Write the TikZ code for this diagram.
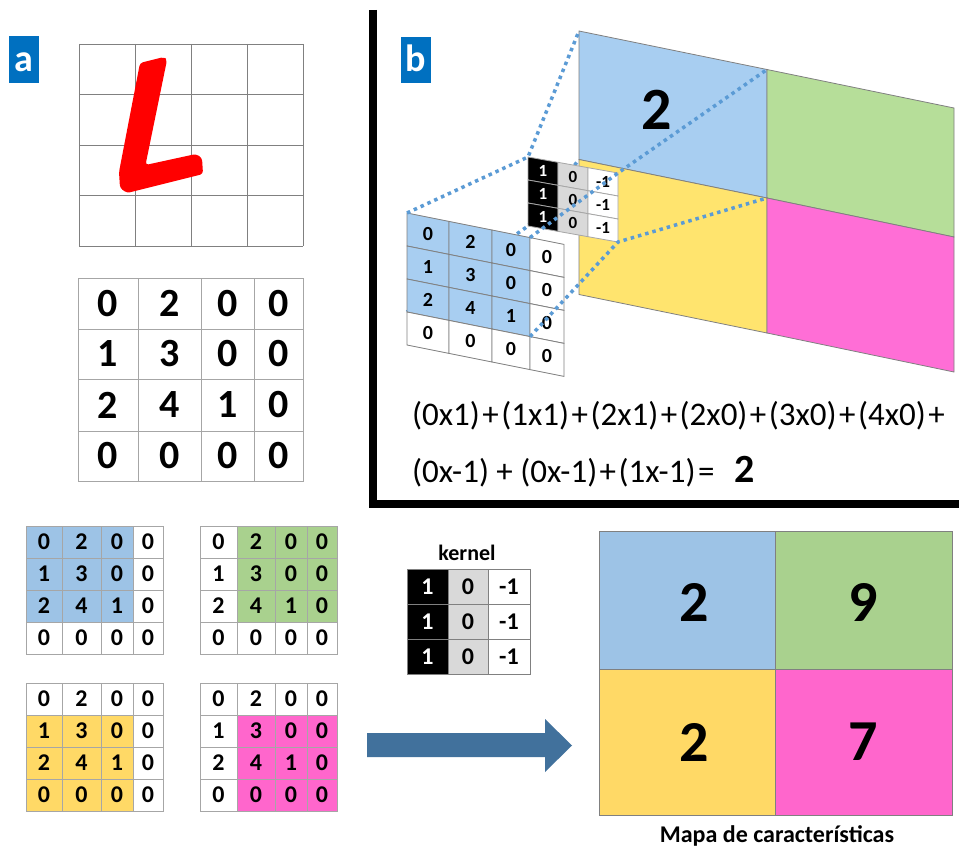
\documentclass[tikz,border=0pt]{standalone}
\usepackage{fontspec}
\setmainfont{Carlito}
\definecolor{lblue}{RGB}{157,195,230}
\definecolor{lgreen}{RGB}{169,209,142}
\definecolor{lyellow}{RGB}{255,217,102}
\definecolor{lpink}{RGB}{255,102,204}
\definecolor{bblue}{RGB}{168,206,241}
\definecolor{bgreen}{RGB}{182,222,153}
\definecolor{byellow}{RGB}{255,228,110}
\definecolor{bpink}{RGB}{255,110,214}
\definecolor{tagblue}{RGB}{0,112,192}
\definecolor{dotblue}{RGB}{91,155,213}
\definecolor{arrowblue}{RGB}{65,113,156}
\definecolor{gridgray}{RGB}{166,166,166}
\definecolor{kgray}{RGB}{217,217,217}
\newcommand\fs[1]{\fontsize{#1}{#1}\selectfont}
\newcommand\pl{\kern2.5pt+\kern2.5pt}
% flat 4x4 grid: #1 name, #2 xs, #3 ys, #4 fill colour, #5-#8 col min/max row min/max, #9 font size
\newcommand\mgrid[9]{%
  \foreach \i in {0,...,3}{\foreach \j in {0,...,3}{%
    \pgfmathsetmacro\xa{#2[\i]}\pgfmathsetmacro\xb{#2[\i+1]}%
    \pgfmathsetmacro\ya{#3[\j]}\pgfmathsetmacro\yb{#3[\j+1]}%
    \pgfmathtruncatemacro\infl{(\i>(#5-1))*(\i<(#6+1))*(\j>(#7-1))*(\j<(#8+1))}%
    \ifnum\infl=1 \fill[#4] (\xa,\ya) rectangle (\xb,\yb);\fi
  }}%
  \foreach \i in {0,...,3}{\foreach \j in {0,...,3}{%
    \pgfmathsetmacro\xa{#2[\i]}\pgfmathsetmacro\xb{#2[\i+1]}%
    \pgfmathsetmacro\ya{#3[\j]}\pgfmathsetmacro\yb{#3[\j+1]}%
    \pgfmathtruncatemacro\cellv{{0,2,0,0,1,3,0,0,2,4,1,0,0,0,0,0}[4*\j+\i]}%
    \draw[gridline] (\xa,\ya) rectangle (\xb,\yb);
    \node[numtxt, font=\bfseries\fs{#9}] (#1-\i-\j) at ({(\xa+\xb)/2},{(\ya+\yb)/2}) {\cellv};
  }}}
\tikzset{
  gridline/.style={draw=gridgray, line width=1pt},
  lgrid/.style={draw=gray, line width=0.8pt},
  numtxt/.style={inner sep=0pt, anchor=center},
  dotline/.style={draw=dotblue, line width=3.5pt, dash pattern=on 3.5pt off 4pt, line join=round},
  mapcell/.style={draw=gray, line width=0.8pt},
  tag/.style={fill=tagblue},
  tagtxt/.style={text=white, font=\bfseries\fs{38}, inner sep=0pt, anchor=base},
}
\begin{document}
\begin{tikzpicture}[x=1pt,y=-1pt]
\useasboundingbox (0,0) rectangle (959,848);
\fill[white] (0,0) rectangle (959,848);

% ---------- panel a ----------
\fill[tag] (9,36) rectangle (39,83);
\node[tagtxt] (taga) at (24,72) {a};

% L grid
\foreach \x in {79,135,191,247,303} \draw[lgrid] (\x,44) -- (\x,246);
\foreach \y in {44,94.5,145,195,246} \draw[lgrid] (79,\y) -- (303,\y);
\fill[red, rounded corners=3pt] (140,63) -- (164,57) -- (167,60) -- (145.5,165) -- (196,154) -- (202,158) -- (203,174) -- (127,193) -- (120,188) -- (119,172) -- cycle;

% number grid
\mgrid{ag}{{78,138,201,254,303}}{{278,329,379,431,481}}{white}{9}{9}{9}{9}{40}

% ---------- separator ----------
\draw[line width=8pt, line join=miter] (372.5,10) -- (372.5,504) -- (959,504);

% ---------- panel b ----------
\fill[tag] (401,37) rectangle (431,83);
\node[tagtxt] (tagb) at (416,72) {b};

% feature map in perspective
\coordinate (O1) at (579,31);
\coordinate (O2) at (767,69.5);
\coordinate (TR) at (954,108);
\coordinate (O4) at (579,159.5);
\coordinate (O3) at (767,198);
\coordinate (MR) at (954,237);
\coordinate (BL) at (579,294.5);
\coordinate (BM) at (767,333);
\coordinate (BR) at (954,372);
\filldraw[mapcell, fill=bblue] (O1) -- (O2) -- (O3) -- (O4) -- cycle;
\filldraw[mapcell, fill=bgreen] (O2) -- (TR) -- (MR) -- (O3) -- cycle;
\filldraw[mapcell, fill=byellow] (O4) -- (O3) -- (BM) -- (BL) -- cycle;
\filldraw[mapcell, fill=bpink] (O3) -- (MR) -- (BR) -- (BM) -- cycle;
\node[numtxt, font=\bfseries\fs{60}] (bmap2) at (657,110) {2};

% projection corners
\coordinate (A) at (407,213);
\coordinate (B) at (530,237.6);
\coordinate (C) at (530,336.6);
\coordinate (D) at (407,312);
\coordinate (K1) at (528,157);
\coordinate (K2) at (618,173);
\coordinate (K3) at (618,242);
\coordinate (K4) at (528,226);

% hidden projection line
\draw[dotline] (D) -- (K4) -- (O4);

% small kernel in perspective
\foreach \xa/\xb/\i/\fc/\tc/\val in {528/558/0/black/white/1, 558/588/1/kgray/black/0, 588/618/2/white/black/-1}{
  \foreach \j in {0,1,2}{
    \pgfmathsetmacro\ta{157+0.178*(\xa-528)+23*\j}
    \pgfmathsetmacro\tb{157+0.178*(\xb-528)+23*\j}
    \filldraw[draw=gridgray, line width=0.8pt, fill=\fc] (\xa,\ta) -- (\xb,\tb) -- (\xb,{\tb+23}) -- (\xa,{\ta+23}) -- cycle;
    \node[numtxt, text=\tc, font=\bfseries\fs{17}] (bk-\i-\j) at ({(\xa+\xb)/2},{(\ta+\tb)/2+11.5}) {\val};
  }
}

% input grid in perspective
\foreach \xa/\xb/\i in {407/449/0, 449/492/1, 492/530/2, 530/564/3}{
  \foreach \j in {0,...,3}{
    \pgfmathsetmacro\ta{213+0.2*(\xa-407)+33*\j}
    \pgfmathsetmacro\tb{213+0.2*(\xb-407)+33*\j}
    \pgfmathtruncatemacro\infl{(\i<3)*(\j<3)}
    \ifnum\infl=1 \def\fc{bblue}\else\def\fc{white}\fi
    \filldraw[draw=gray, line width=0.8pt, fill=\fc] (\xa,\ta) -- (\xb,\tb) -- (\xb,{\tb+33}) -- (\xa,{\ta+33}) -- cycle;
    \pgfmathtruncatemacro\cellv{{0,2,0,0,1,3,0,0,2,4,1,0,0,0,0,0}[4*\j+\i]}
    \node[numtxt, font=\bfseries\fs{20}] (bg-\i-\j) at ({(\xa+\xb)/2},{(\ta+\tb)/2+16.5}) {\cellv};
  }
}

% visible projection lines
\draw[dotline] (A) -- (K1) -- (O1);
\draw[dotline] (B) -- (K2) -- (O2);
\draw[dotline] (C) -- (K3) -- (O3);

% formula
\node[anchor=base west, inner sep=0pt, font=\fs{33}] (f1) at (412,425) {(0x1)\pl(1x1)\pl(2x1)\pl(2x0)\pl(3x0)\pl(4x0)\kern2.5pt+};
\node[anchor=base west, inner sep=0pt, font=\fs{33}] (f2) at (412,482) {(0x-1) + (0x-1)\pl(1x-1)\kern2.5pt=};
\node[anchor=base, inner sep=0pt, font=\bfseries\fs{40}] (f3) at (745,482) {2};

% ---------- bottom: four windows ----------
\mgrid{g1}{{26,62,101,133,163}}{{526,558,590,622,654}}{lblue}{0}{2}{0}{2}{24}
\mgrid{g2}{{200,237,275,307,337}}{{526,558,590,622,654}}{lgreen}{1}{3}{0}{2}{24}
\mgrid{g3}{{26,62,101,133,163}}{{683,715,747,779,811}}{lyellow}{0}{2}{1}{3}{24}
\mgrid{g4}{{200,237,275,307,337}}{{683,715,747,779,811}}{lpink}{1}{3}{1}{3}{24}

% kernel
\node[anchor=base, inner sep=0pt, font=\bfseries\fs{22}] (kerneltitle) at (467,560) {kernel};
\foreach \xa/\xb/\i/\fc/\tc/\val in {407/448/0/black/white/1, 448/488/1/kgray/black/0, 488/530/2/white/black/-1}{
  \foreach \ya/\yb/\j in {569/604/0, 604/639/1, 639/674/2}{
    \filldraw[draw=gray, line width=1pt, fill=\fc] (\xa,\ya) rectangle (\xb,\yb);
    \node[numtxt, text=\tc, font=\bfseries\fs{24}] (k-\i-\j) at ({(\xa+\xb)/2},{(\ya+\yb)/2}) {\val};
  }
}

% arrow
\fill[arrowblue] (367,733) -- (545,733) -- (545,719) -- (572,745.5) -- (545,772) -- (545,757) -- (367,757) -- cycle;

% feature map
\filldraw[mapcell, fill=lblue] (599,531) rectangle (775,669);
\filldraw[mapcell, fill=lgreen] (775,531) rectangle (952,669);
\filldraw[mapcell, fill=lyellow] (599,669) rectangle (775,815);
\filldraw[mapcell, fill=lpink] (775,669) rectangle (952,815);
\node[numtxt, font=\bfseries\fs{58}] (fm1) at (694,602) {2};
\node[numtxt, font=\bfseries\fs{58}] (fm2) at (863,602) {9};
\node[numtxt, font=\bfseries\fs{58}] (fm3) at (694,742) {2};
\node[numtxt, font=\bfseries\fs{58}] (fm4) at (863,742) {7};
\node[anchor=base, inner sep=0pt, font=\bfseries\fs{24}] (fmtitle) at (777,842) {Mapa de características};
\end{tikzpicture}
\end{document}
